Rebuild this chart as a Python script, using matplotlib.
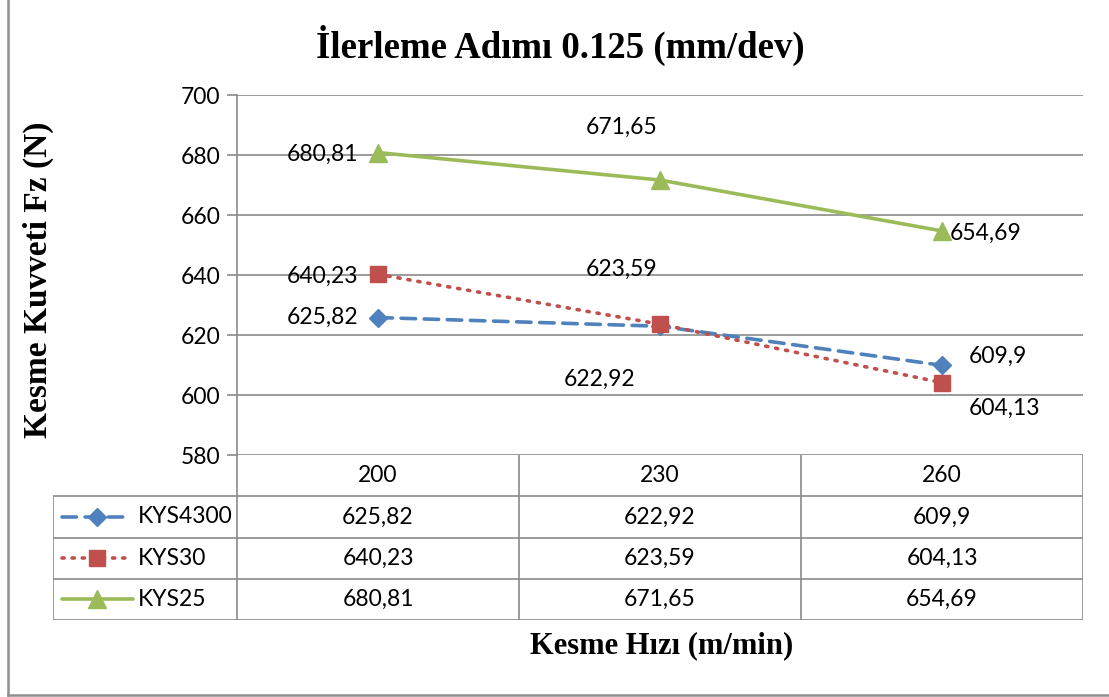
import matplotlib.pyplot as plt
import numpy as np
from matplotlib.lines import Line2D

plt.rcParams['font.family'] = ['Lato', 'DejaVu Sans']

# data
hiz = ['200', '230', '260']
seriler = ['KYS4300', 'KYS30', 'KYS25']
kys4300 = [625.82, 622.92, 609.9]
kys30 = [640.23, 623.59, 604.13]
kys25 = [680.81, 671.65, 654.69]

W, H = 1109, 697
fig = plt.figure(figsize=(W / 100, H / 100), dpi=100)


def px(x0, y0, x1, y1):
    # pixel box (top-left origin) -> figure fraction rect
    return [x0 / W, 1 - y1 / H, (x1 - x0) / W, (y1 - y0) / H]


grid_c = '#8a8a8a'
fs = 16.5
renkler = ['#4F81BD', '#C0504D', '#9BBB59']
stiller = [dict(ls=(0, (4, 2.4)), marker='D', ms=9),
           dict(ls=(0, (0.6, 2.2)), marker='s', ms=11),
           dict(ls='-', marker='^', ms=13)]
degerler = [kys4300, kys30, kys25]

ax = fig.add_axes(px(237, 95, 1083, 455))
x = np.arange(len(hiz))
for vals, c, st in zip(degerler, renkler, stiller):
    ax.plot(x, vals, color=c, lw=2.6, dash_capstyle='round', solid_capstyle='round',
            marker=st['marker'], ms=st['ms'], ls=st['ls'], mfc=c, mec=c, zorder=3)

ax.set_xlim(-0.5, 2.5)
ax.set_ylim(580, 700)
ax.set_yticks(np.arange(580, 701, 20))
ax.set_xticks([])
ax.yaxis.grid(True, color=grid_c, lw=1.2)
ax.set_axisbelow(True)
for s in ['top', 'right', 'bottom']:
    ax.spines[s].set_visible(False)
ax.spines['left'].set_color(grid_c)
ax.spines['left'].set_linewidth(1.2)
ax.tick_params(axis='y', length=7, width=1.2, color=grid_c, labelsize=fs, pad=5)

# data labels: (offset px, ha)
etiket_yer = [
    [((-20, 0), 'right'), ((-60, -53), 'center'), ((27, 9), 'left')],
    [((-20, -2), 'right'), ((-38, 55), 'center'), ((27, -26), 'left')],
    [((-20, -2), 'right'), ((-38, 53), 'center'), ((8, -2), 'left')],
]
for vals, yerler in zip(degerler, etiket_yer):
    for i, (v, (off, ha)) in enumerate(zip(vals, yerler)):
        ax.annotate(f'{v:g}'.replace('.', ','), (i, v), xytext=off,
                    textcoords='offset pixels', ha=ha, va='center', fontsize=fs)

# data table under the plot
u = 846 / 3
leg_w = (237 - 53) / u
tab = fig.add_axes(px(53, 455, 1083, 620))
tab.set_xlim(-0.5 - leg_w, 2.5)
tab.set_ylim(4, 0)
tab.axis('off')
lk = dict(color=grid_c, lw=1.2, solid_capstyle='butt')
for r in range(1, 5):
    tab.plot([-0.5 - leg_w, 2.5], [r, r], **lk)
tab.plot([-0.5 - leg_w] * 2, [1, 4], **lk)
for cx in [-0.5, 0.5, 1.5, 2.5]:
    tab.plot([cx, cx], [0, 4], **lk)
for i, h in enumerate(hiz):
    tab.text(i, 0.5, h, ha='center', va='center', fontsize=fs)
x0 = -0.5 - leg_w
for r, (ad, vals, c, st) in enumerate(zip(seriler, degerler, renkler, stiller)):
    yy = r + 1.5
    seg_end = x0 + (80 if ad == 'KYS25' else 72) / u
    tab.plot([x0 + 9 / u, seg_end], [yy, yy], color=c, lw=2.6, ls=st['ls'],
             dash_capstyle='round', solid_capstyle='round')
    tab.plot([x0 + 44 / u], [yy], marker=st['marker'], ms=st['ms'], color=c, ls='none')
    tab.text(x0 + 85 / u, yy, ad, ha='left', va='center', fontsize=fs)
    for i, v in enumerate(vals):
        tab.text(i, yy, f'{v:g}'.replace('.', ','), ha='center', va='center', fontsize=fs)

# titles
serif = ['Liberation Serif', 'DejaVu Serif']
fig.text(560 / W, 1 - 45 / H, 'İlerleme Adımı 0.125 (mm/dev)', ha='center', va='center',
         fontsize=26.5, fontweight='bold', family=serif)
fig.text(38 / W, 1 - 280 / H, 'Kesme Kuvveti Fz (N)', ha='center', va='center',
         rotation=90, fontsize=24, fontweight='bold', family=serif)
fig.text(662 / W, 1 - 646 / H, 'Kesme Hızı (m/min)', ha='center', va='center',
         fontsize=22, fontweight='bold', family=serif)

# chart frame
fig.add_artist(Line2D([8 / W, 8 / W], [1 - 695 / H, 1.0], color='#8f8f8f', lw=1.8))
fig.add_artist(Line2D([8 / W, 1.0], [1 - 695 / H, 1 - 695 / H], color='#8f8f8f', lw=1.8))

fig.savefig('out.png', dpi=100)
